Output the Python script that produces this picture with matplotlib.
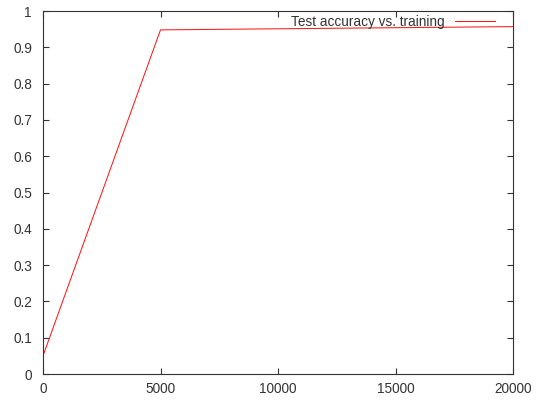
import matplotlib
matplotlib.use("Agg")
import matplotlib.pyplot as plt

iterations = [0, 5000, 10000, 15000, 20000]
accuracy = [0.05, 0.948, 0.951, 0.954, 0.957]
x_ticks = [0, 5000, 10000, 15000, 20000]
y_ticks = [0, 0.1, 0.2, 0.3, 0.4, 0.5, 0.6, 0.7, 0.8, 0.9, 1]

plt.rcParams["font.family"] = ["Liberation Sans", "DejaVu Sans"]

W, H = 543, 400
fig = plt.figure(figsize=(W / 100, H / 100), dpi=100)
ax = fig.add_axes([43 / W, (H - 374) / H, (513 - 43) / W, (374 - 11) / H])

ax.plot(iterations, accuracy, color="#ff1a1a", linewidth=0.75,
        label="Test accuracy vs. training")

ax.set_xlim(0, 20000)
ax.set_ylim(0, 1)
ax.set_xticks(x_ticks)
ax.set_yticks(y_ticks)
ax.set_xticklabels([str(v) for v in x_ticks])
ax.set_yticklabels([f"{v:g}" for v in y_ticks])

fs = 9.8
ax.tick_params(axis="both", direction="in", length=4, width=0.8,
               color="#333333", labelcolor="#333333", labelsize=fs,
               top=True, right=True)
ax.tick_params(axis="y", pad=8)
ax.tick_params(axis="x", pad=6)
for s in ax.spines.values():
    s.set_color("#333333")
    s.set_linewidth(0.8)

leg = ax.legend(loc="upper right", bbox_to_anchor=(0.981, 1.015),
                frameon=False, markerfirst=False, fontsize=fs,
                handlelength=2.9, handletextpad=0.75, borderpad=0.2)
for t in leg.get_texts():
    t.set_color("#333333")

fig.savefig("out.png", dpi=100, facecolor="white")
